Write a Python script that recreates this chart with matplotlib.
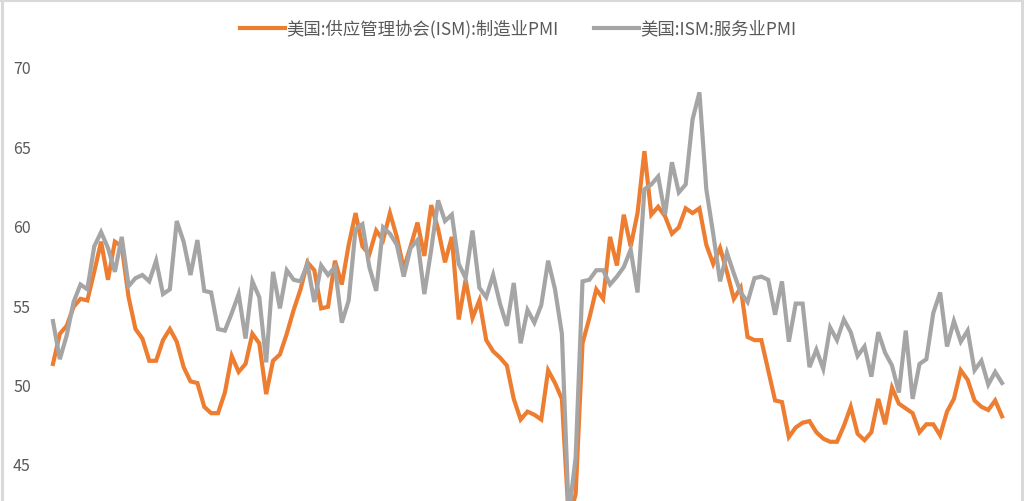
import matplotlib
matplotlib.use("Agg")
import matplotlib.pyplot as plt
from matplotlib.lines import Line2D
import numpy as np

plt.rcParams['font.family'] = ['Noto Sans CJK SC', 'DejaVu Sans']

## -- monthly data, Jan 2014 .. Jul 2025
mfg_2014 = [51.3, 53.2, 53.7, 54.9, 55.4, 55.3, 57.1, 59.0, 56.6, 59.0, 58.7, 55.5]
mfg_2015 = [53.5, 52.9, 51.5, 51.5, 52.8, 53.5, 52.7, 51.1, 50.2, 50.1, 48.6, 48.2]
mfg_2016 = [48.2, 49.5, 51.8, 50.8, 51.3, 53.2, 52.6, 49.4, 51.5, 51.9, 53.2, 54.7]
mfg_2017 = [56.0, 57.7, 57.2, 54.8, 54.9, 57.8, 56.3, 58.8, 60.8, 58.7, 58.2, 59.7]
mfg_2018 = [59.1, 60.8, 59.3, 57.3, 58.7, 60.2, 58.1, 61.3, 59.8, 57.7, 59.3, 54.1]
mfg_2019 = [56.6, 54.2, 55.3, 52.8, 52.1, 51.7, 51.2, 49.1, 47.8, 48.3, 48.1, 47.8]
mfg_2020 = [50.9, 50.1, 49.1, 41.5, 43.1, 52.6, 54.2, 56.0, 55.4, 59.3, 57.5, 60.7]
mfg_2021 = [58.7, 60.8, 64.7, 60.7, 61.2, 60.6, 59.5, 59.9, 61.1, 60.8, 61.1, 58.8]
mfg_2022 = [57.6, 58.6, 57.1, 55.4, 56.1, 53.0, 52.8, 52.8, 50.9, 49.0, 48.9, 46.7]
mfg_2023 = [47.3, 47.6, 47.7, 47.0, 46.6, 46.4, 46.4, 47.4, 48.6, 46.9, 46.5, 47.0]
mfg_2024 = [49.1, 47.5, 49.8, 48.8, 48.5, 48.2, 47.0, 47.5, 47.5, 46.8, 48.3, 49.1]
mfg_2025 = [50.9, 50.3, 49.0, 48.6, 48.4, 49.0, 48.0]

svc_2014 = [54.0, 51.6, 53.1, 55.2, 56.3, 56.0, 58.7, 59.6, 58.6, 57.1, 59.3, 56.2]
svc_2015 = [56.7, 56.9, 56.5, 57.8, 55.7, 56.0, 60.3, 59.0, 56.9, 59.1, 55.9, 55.8]
svc_2016 = [53.5, 53.4, 54.5, 55.7, 52.9, 56.5, 55.5, 51.4, 57.1, 54.8, 57.2, 56.6]
svc_2017 = [56.5, 57.6, 55.2, 57.5, 56.9, 57.4, 53.9, 55.3, 59.8, 60.1, 57.4, 55.9]
svc_2018 = [59.9, 59.5, 58.8, 56.8, 58.6, 59.1, 55.7, 58.5, 61.6, 60.3, 60.7, 57.6]
svc_2019 = [56.7, 59.7, 56.1, 55.5, 56.9, 55.1, 53.7, 56.4, 52.6, 54.7, 53.9, 55.0]
svc_2020 = [57.8, 56.0, 53.2, 41.8, 45.4, 56.5, 56.6, 57.2, 57.2, 56.3, 56.8, 57.4]
svc_2021 = [58.5, 55.8, 62.3, 62.6, 63.1, 60.7, 64.0, 62.1, 62.6, 66.7, 68.4, 62.3]
svc_2022 = [59.5, 56.5, 58.3, 57.0, 55.8, 55.2, 56.7, 56.8, 56.6, 54.4, 56.5, 52.7]
svc_2023 = [55.1, 55.1, 51.1, 52.2, 51.0, 53.6, 52.8, 54.1, 53.3, 51.8, 52.4, 50.5]
svc_2024 = [53.3, 52.0, 51.2, 49.5, 53.4, 49.1, 51.3, 51.6, 54.5, 55.8, 52.4, 54.0]
svc_2025 = [52.7, 53.4, 50.9, 51.5, 50.0, 50.8, 50.1]

mfg = (mfg_2014 + mfg_2015 + mfg_2016 + mfg_2017 + mfg_2018 + mfg_2019 +
       mfg_2020 + mfg_2021 + mfg_2022 + mfg_2023 + mfg_2024 + mfg_2025)
svc = (svc_2014 + svc_2015 + svc_2016 + svc_2017 + svc_2018 + svc_2019 +
       svc_2020 + svc_2021 + svc_2022 + svc_2023 + svc_2024 + svc_2025)

label_mfg = "美国:供应管理协会(ISM):制造业PMI"
label_svc = "美国:ISM:服务业PMI"
yticks = [45, 50, 55, 60, 65, 70]

c_mfg = '#ED7D31'
c_svc = '#A5A5A5'
c_txt = '#595959'

fig = plt.figure(figsize=(10.24, 5.02), dpi=100)
fig.patch.set_facecolor('white')
## -- axes placed so idx 0 sits at px 53 and the last month at px 1002
axp = fig.add_axes([39.2/1024, 0.0, (1015.8-39.2)/1024, 1.0])
t = np.arange(len(mfg))
axp.plot(t, mfg, color=c_mfg, lw=3.0, label=label_mfg, solid_joinstyle='miter')
axp.plot(t, svc, color=c_svc, lw=3.0, label=label_svc, solid_joinstyle='miter')

axp.set_xlim(-2, 140)
axp.set_ylim(42.67, 74.28)
axp.set_yticks(yticks)
axp.set_yticklabels([str(v) for v in yticks])
axp.set_xticks([])
axp.tick_params(axis='y', length=0, pad=6, labelsize=11.5, labelcolor=c_txt)
for s in axp.spines.values():
  s.set_visible(False)
axp.patch.set_alpha(0)

fig.legend(loc='center', bbox_to_anchor=(0.506, 1-29.5/502), ncol=2, frameon=False,
           fontsize=12.5, labelcolor=c_txt, handlelength=2.6, handletextpad=0.1,
           columnspacing=2.0)

## -- thin frame on left, top, right
fc = '#D9D9D9'
fig.add_artist(Line2D([1.5/1024, 1.5/1024], [0, 1], color=fc, lw=2.2))
fig.add_artist(Line2D([0, 1], [1-1.2/502, 1-1.2/502], color=fc, lw=2.2))
fig.add_artist(Line2D([1-2.0/1024, 1-2.0/1024], [0, 1], color=fc, lw=2.2))

fig.savefig('out.png', dpi=100, facecolor='white')
